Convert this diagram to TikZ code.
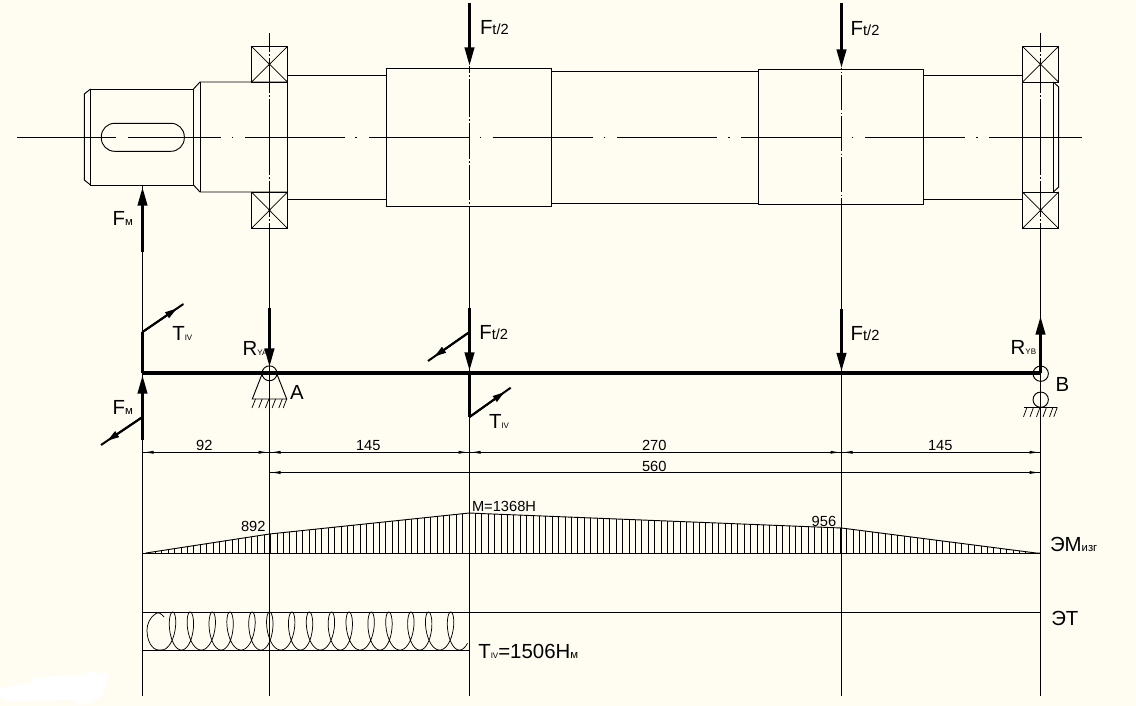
\documentclass[tikz,border=0pt]{standalone}
\usepackage{fontspec}
\setmainfont{Liberation Sans}
\usetikzlibrary{arrows.meta,calc}
\definecolor{paper}{HTML}{FFFDF2}
\newcommand{\bigt}{\fontsize{15.3}{16}\selectfont}
\newcommand{\midt}{\fontsize{11}{12}\selectfont}
\newcommand{\smallcyr}[1]{{\fontsize{8.5}{9}\selectfont #1}}
\newcommand{\tinyt}[1]{{\fontsize{6}{7}\selectfont #1}}
\tikzset{
  thin line/.style={line width=0.7pt,black},
  hair/.style={line width=0.55pt,black},
  heavy/.style={line width=2.3pt,black},
  diag/.style={line width=1.5pt,black},
  force/.style={heavy,-{Triangle[length=14pt,width=7pt]}},
  torque/.style={diag,-{Triangle[length=9pt,width=5pt]}},
  lab/.style={anchor=base west,inner sep=0pt,outer sep=0pt,font=\bigt},
  dim/.style={anchor=base,inner sep=0pt,outer sep=0pt,font=\midt},
  diml/.style={anchor=base west,inner sep=0pt,outer sep=0pt,font=\midt},
}
\begin{document}
\begin{tikzpicture}[x=0.75pt,y=-0.75pt]
\useasboundingbox (0,0) rectangle (1136,706);
\fill[paper] (0,0) rectangle (1136,706);
\fill[white] (0,688) -- (33,682) -- (35,677) -- (80,675) -- (87,672) -- (108,673) -- (103,695) -- (90,703) -- (77,705) -- (75,700) -- (7,701) -- (0,697) -- cycle;

% stations
\coordinate (sO) at (142.5,373);
\coordinate (sA) at (269.5,373);
\coordinate (sC) at (469.5,373);
\coordinate (sD) at (841.5,373);
\coordinate (sB) at (1040.5,373);

% centre line
\foreach \a/\b in {17/116,128/221,245/345,369/470,492.7/592.7,617.3/716.7,741/841.7,865/965,989/1082}
  \draw[thin line] (\a,137) -- (\b,137);
\foreach \a in {232.5,356,480.3,604.3,728.7,852.3,976.7}
  \draw[thin line] (\a-0.8,137) -- (\a+0.8,137);

% shaft
\begin{scope}[thin line]
\draw (90.5,89) -- (84.3,94) -- (84.3,180) -- (90.5,185);
\draw (90.5,89) rectangle (193.5,185);
\draw (193.5,89) -- (200,82) -- (287.5,82) -- (287.5,192) -- (200,192) -- (193.5,185);
\draw (200,82) -- (200,192);
\draw[rounded corners=10pt] (101.3,123.3) rectangle (184.3,151.3);
\draw (287.5,75.3) -- (386.3,75.3);
\draw (287.5,199.3) -- (386.3,199.3);
\draw (386.3,68.3) rectangle (551.7,206.3);
\draw (551.7,71.3) -- (758.3,71.3);
\draw (551.7,203.3) -- (758.3,203.3);
\draw (758.3,69.3) rectangle (923.7,204.3);
\draw (923.7,75.3) -- (1022.5,75.3);
\draw (923.7,199.3) -- (1022.5,199.3);
\draw (1022.5,82) -- (1022.5,192);
\draw (1053.4,82) -- (1053.4,192);
\draw (1053.4,82) -- (1058.7,87) -- (1058.7,187) -- (1053.4,192);
% bearings
\foreach \xa/\xb in {251.5/287.5,1022.5/1058.5}
  \foreach \ya/\yb in {46.5/82,192/228.5}{
    \draw (\xa,\ya) rectangle (\xb,\yb);
    \draw[hair] (\xa,\ya) -- (\xb,\yb);
    \draw[hair] (\xa,\yb) -- (\xb,\ya);
  }
\end{scope}

% vertical lines with chain parts
\draw[thin line] (sO |- 0,185) -- (sO |- 0,696);
\foreach \s in {sA,sB}{
  \foreach \a/\b in {33/52,58/93,99/175,181/217,223/696}
    \draw[thin line] (\s |- 0,\a) -- (\s |- 0,\b);
  \foreach \a in {55,96,178,220}
    \draw[thin line] (\s |- 0,\a-0.7) -- (\s |- 0,\a+0.7);
}
\foreach \a/\b in {66/73,79/117,123/159,165/200,206/696}
  \draw[thin line] (sC |- 0,\a) -- (sC |- 0,\b);
\foreach \a in {76,120,162,203}
  \draw[thin line] (sC |- 0,\a-0.7) -- (sC |- 0,\a+0.7);
\foreach \a/\b in {68/69.5,75/110.5,116/151.5,157/192.5,198/696}
  \draw[thin line] (sD |- 0,\a) -- (sD |- 0,\b);
\foreach \a in {72.5,113.5,154.5,195.5}
  \draw[thin line] (sD |- 0,\a-0.7) -- (sD |- 0,\a+0.7);

% top forces
\coordinate (fmT) at (142.5,252); \coordinate (fmH) at (142.5,187);
\draw[force] (fmT) -- (fmH);
\coordinate (ftT1) at (469.5,3); \coordinate (ftH1) at (469.5,66);
\draw[force] (ftT1) -- (ftH1);
\coordinate (ftT2) at (841.5,3.5); \coordinate (ftH2) at (841.5,68);
\draw[force] (ftT2) -- (ftH2);
\node[lab] (lfm1) at (112.7,226) {F\smallcyr{м}};
\node[lab] (lft1) at (480,34.5) {F{\midt t/2}};
\node[lab] (lft2) at (850.7,35.5) {F{\midt t/2}};

% beam
\draw[line width=3pt] (sO) -- (sB);

% left torque
\coordinate (tl0) at (142.5,332); \coordinate (tl1) at (183,304.3);
\draw[heavy] (sO) -- (tl0);
\draw[diag,line cap=round] (tl0) -- (tl1);
\draw[torque] (tl0) -- ($(tl0)!0.85!(tl1)$);
% left lower force
\coordinate (fl0) at (142.5,440); \coordinate (fl1) at (142.5,375); \coordinate (fl2) at (142.5,417); \coordinate (fl3) at (101,445);
\draw[force] (fl0) -- (fl1);
\draw[diag] (fl2) -- (fl3);
\draw[torque] (fl2) -- ($(fl2)!0.85!(fl3)$);
% R_YA
\coordinate (ra0) at (269.5,308); \coordinate (ra1) at (269.5,367);
\draw[force] (ra0) -- (ra1);
% centre forces
\coordinate (fc0) at (469.5,308); \coordinate (fc1) at (469.5,371); \coordinate (fc2) at (469.5,332); \coordinate (fc3) at (428,361);
\draw[force] (fc0) -- (fc1);
\draw[diag] (fc2) -- (fc3);
\draw[torque] (fc2) -- ($(fc2)!0.85!(fc3)$);
\coordinate (tc0) at (469.5,417); \coordinate (tc1) at (510.7,387.7);
\draw[heavy] (sC) -- (tc0);
\draw[diag] (tc0) -- (tc1);
\draw[torque] (tc0) -- ($(tc0)!0.85!(tc1)$);
% right forces
\coordinate (fd0) at (841.5,309); \coordinate (fd1) at (841.5,371.5);
\draw[force] (fd0) -- (fd1);
\coordinate (rb1) at (1040.5,316);
\draw[force] (sB) -- (rb1);

% supports
\begin{scope}[thin line]
\node[circle,draw,line width=0.7pt,minimum size=11.2pt,inner sep=0pt] (hingeA) at (269.5,373.3) {};
\draw (262.3,373.5) -- (252.3,399) -- (286.7,399) -- (276.7,373.5);
\foreach \x in {255.5,262.2,268.9,275.6,282.3,286.7}
  \draw[hair] (\x,399) -- ++(-3.5,9);
\node[circle,draw,line width=0.7pt,minimum size=11.5pt,inner sep=0pt] (hingeB) at (1040.7,373.7) {};
\node[circle,draw,line width=0.7pt,minimum size=11.5pt,inner sep=0pt] (rollB) at (1040.7,399.7) {};
\draw (1024,407.3) -- (1057.3,407.3);
\foreach \x in {1027,1033.5,1040,1046.5,1053,1057.3}
  \draw[hair] (\x,407.3) -- ++(-3.5,9.5);
\end{scope}

% labels of the scheme
\node[lab] (ltiv1) at (172.3,340.7) {T\tinyt{IV}};
\node[lab] (lrya) at (242.7,355) {R\tinyt{YA}};
\node[lab] (lft3) at (479.3,339.5) {F{\midt t/2}};
\node[lab] (lA) at (290,399.5) {A};
\node[lab] (lfm2) at (112.7,414.3) {F\smallcyr{м}};
\node[lab] (ltiv2) at (489,428.7) {T\tinyt{IV}};
\node[lab] (lft4) at (850.7,340.5) {F{\midt t/2}};
\node[lab] (lryb) at (1010.7,354) {R\tinyt{YB}};
\node[lab] (lB) at (1055.7,391) {B};

% dimensions
\draw[thin line] (sO |- 0,452.3) -- (sB |- 0,452.3);
\draw[thin line] (sA |- 0,472.5) -- (sB |- 0,472.5);
\foreach \x in {142.5,269.5,469.5,841.5}
  \fill (\x+3,452.3) -- (\x+11,450.8) -- (\x+11,453.8) -- cycle;
\foreach \x in {269.5,469.5,841.5,1040.5}
  \fill (\x-3,452.3) -- (\x-11,450.8) -- (\x-11,453.8) -- cycle;
\fill (272.5,472.5) -- (280.5,471) -- (280.5,474) -- cycle;
\fill (1037.5,472.5) -- (1029.5,471) -- (1029.5,474) -- cycle;
\node[dim] (d92) at (204.3,450) {92};
\node[dim] (d145a) at (368.3,450) {145};
\node[dim] (d270) at (654.3,450) {270};
\node[dim] (d145b) at (940.3,450) {145};
\node[dim] (d560) at (654.3,471) {560};

% bending moment diagram
\draw[thin line] (sO |- 0,553) -- (sB |- 0,553);
\draw[thin line] (146,553) -- (269.5,534) -- (469.5,513) -- (480,513.5) -- (841.5,528) -- (1036,553) -- (1040.5,553);
\foreach \x in {149,155.4,...,1036}{
  \pgfmathsetmacro\yy{\x<269.5 ? 553-(\x-146)/123.5*19 : (\x<469.5 ? 534-(\x-269.5)/200*21 : (\x<841.5 ? 513+(\x-469.5)/372*15 : 528+(\x-841.5)/194.5*25))}
  \draw[hair] (\x,\yy) -- (\x,553);
}
\node[diml] (m892) at (241,531) {892};
\node[diml] (m1368) at (472,511) {M=1368H};
\node[diml] (m956) at (811.7,526) {956};
\node[lab] (lem) at (1050,551.7) {ЭМ\smallcyr{изг}};

% torque diagram
\draw[thin line] (sO |- 0,612.5) -- (sB |- 0,612.5);
\draw[thin line] (sO |- 0,650) -- (sC |- 0,650);
\draw[hair] (164,617) .. controls (161,613) and (158,612) .. (156,613.5)
  .. controls (150,617) and (147,624) .. (147,630)
  .. controls (147,641) and (152,650) .. (159,650)
  .. controls (160.5,650) and (162,650) .. (162.8,650);
\draw[hair] plot[domain=-180:5270,samples=900]
  ({172.7+19.86*(\x/360)-7.5*sin(\x)-1.2*(1-cos(\x/2))},{631-19*cos(\x)});
\node[lab] (lem2) at (1051.3,625) {ЭТ};
\node[lab] (ltm) at (478.3,658.3) {T\tinyt{IV}=1506Н\smallcyr{м}};
\end{tikzpicture}
\end{document}
